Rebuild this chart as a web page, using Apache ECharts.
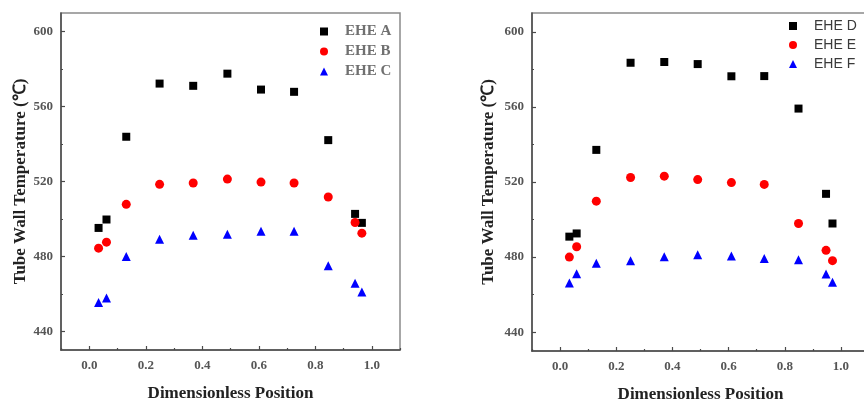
<!DOCTYPE html>
<html>
<head>
<meta charset="utf-8">
<script src="https://cdn.jsdelivr.net/npm/echarts@6/dist/echarts.min.js"></script>
<style>
  html, body { margin: 0; padding: 0; background: #fff; }
  #chart { width: 864px; height: 401px; }
</style>
</head>
<body>
<div id="chart"></div>
<script>
// Dimensionless positions along the tube (shared by every heat exchanger)
const posLeft  = [0.033, 0.061, 0.131, 0.249, 0.368, 0.489, 0.608, 0.725, 0.846, 0.941, 0.965];
const posRight = [0.033, 0.059, 0.129, 0.251, 0.371, 0.490, 0.610, 0.727, 0.849, 0.947, 0.970];

// Tube wall temperatures (℃)
const eheA = [495.2, 499.7, 543.9, 572.3, 571.1, 577.6, 569.1, 567.9, 542.1, 502.7, 497.9];
const eheB = [484.4, 487.6, 507.8, 518.5, 519.2, 521.3, 519.7, 519.2, 511.7, 498.1, 492.4];
const eheC = [455.4, 457.8, 480.0, 489.2, 491.3, 491.8, 493.4, 493.4, 475.0, 465.6, 461.0];
const eheD = [490.9, 492.6, 537.1, 583.5, 583.9, 582.8, 576.3, 576.4, 559.1, 513.7, 497.9];
const eheE = [480.0, 485.5, 509.8, 522.4, 523.1, 521.3, 519.7, 518.7, 497.9, 483.6, 478.1];
const eheF = [466.2, 471.2, 476.7, 478.1, 480.2, 481.3, 480.6, 479.2, 478.6, 471.0, 466.6];

// Tick positions and labels
const xMajorTicks = [0.0, 0.2, 0.4, 0.6, 0.8, 1.0];
const xMinorTicks = [-0.1, 0.1, 0.3, 0.5, 0.7, 0.9, 1.1];
const yMajorTicks = [440, 480, 520, 560, 600];
const yMinorTicks = [460, 500, 540, 580];

const xName = 'Dimensionless Position';
const yName = 'Tube Wall Temperature (℃)';

const serif = 'Liberation Serif, Times New Roman, serif';
const sans = 'Liberation Sans, Arial, sans-serif';
const axisColor = '#4a4a4a';
const labelStyle = { color: '#555', fontFamily: serif, fontWeight: 'bold', fontSize: 13 };
const nameStyle = { color: '#222', fontFamily: serif, fontWeight: 'bold', fontSize: 17 };

// The right-hand panel runs past the page edge on purpose
const grids = [
  { left: 61, top: 13, width: 339, height: 337 },
  { left: 532, top: 13, width: 337, height: 338 }
];
const yNameGaps = [31, 35];

function makeX(gridIndex) {
  return [
    {
      gridIndex, type: 'value', min: -0.1, max: 1.1,
      name: xName, nameLocation: 'middle', nameGap: 35,
      nameTextStyle: nameStyle,
      axisLine: { show: true, onZero: false, lineStyle: { color: axisColor, width: 1.5 } },
      axisTick: { show: true, inside: true, length: 4, customValues: xMajorTicks, lineStyle: { color: axisColor, width: 1.2 } },
      axisLabel: { customValues: xMajorTicks, margin: 9, formatter: v => v.toFixed(1), ...labelStyle },
      splitLine: { show: false }
    },
    {
      gridIndex, type: 'value', min: -0.1, max: 1.1, position: 'bottom',
      axisLine: { show: false, onZero: false },
      axisTick: { show: true, inside: true, length: 2, customValues: xMinorTicks, lineStyle: { color: axisColor, width: 1.2 } },
      axisLabel: { show: false },
      splitLine: { show: false }
    }
  ];
}

function makeY(gridIndex) {
  return [
    {
      gridIndex, type: 'value', min: 430, max: 610,
      name: yName, nameLocation: 'middle', nameGap: yNameGaps[gridIndex],
      nameTextStyle: nameStyle,
      axisLine: { show: true, onZero: false, lineStyle: { color: axisColor, width: 1.5 } },
      axisTick: { show: true, inside: true, length: 4, customValues: yMajorTicks, lineStyle: { color: axisColor, width: 1.2 } },
      axisLabel: { customValues: yMajorTicks, margin: 8, ...labelStyle },
      splitLine: { show: false }
    },
    {
      gridIndex, type: 'value', min: 430, max: 610, position: 'left',
      axisLine: { show: false, onZero: false },
      axisTick: { show: true, inside: true, length: 2, customValues: yMinorTicks, lineStyle: { color: axisColor, width: 1.2 } },
      axisLabel: { show: false },
      splitLine: { show: false }
    }
  ];
}

function scatter(name, xs, ys, axisBase, symbol, size, color) {
  return {
    name, type: 'scatter',
    xAxisIndex: axisBase, yAxisIndex: axisBase,
    symbol, symbolSize: size,
    itemStyle: { color, opacity: 1 },
    data: xs.map((x, i) => [x, ys[i]]),
    z: 5
  };
}

const chart = echarts.init(document.getElementById('chart'), null, { renderer: 'canvas' });
chart.setOption({
  animation: false,
  backgroundColor: '#fff',
  grid: grids.map(g => ({
    ...g, containLabel: false, outerBoundsMode: 'none',
    show: true, borderColor: '#8a8a8a', borderWidth: 1.5, backgroundColor: 'transparent'
  })),
  xAxis: [...makeX(0), ...makeX(1)],
  yAxis: [...makeY(0), ...makeY(1)],
  legend: [
    {
      data: ['EHE A', 'EHE B', 'EHE C'],
      orient: 'vertical', left: 315, top: 19,
      itemWidth: 8, itemHeight: 8, itemGap: 5,
      textStyle: { color: '#707070', fontFamily: serif, fontWeight: 'bold', fontSize: 15, padding: [0, 0, 0, 12] }
    },
    {
      data: ['EHE D', 'EHE E', 'EHE F'],
      orient: 'vertical', left: 784, top: 14,
      itemWidth: 8, itemHeight: 8, itemGap: 5,
      textStyle: { color: '#3a3a3a', fontFamily: sans, fontSize: 14, padding: [0, 0, 0, 12] }
    }
  ],
  series: [
    scatter('EHE A', posLeft, eheA, 0, 'rect', 8, '#000'),
    scatter('EHE B', posLeft, eheB, 0, 'circle', 9, '#ff0000'),
    scatter('EHE C', posLeft, eheC, 0, 'triangle', 9, '#0000ff'),
    scatter('EHE D', posRight, eheD, 2, 'rect', 8, '#000'),
    scatter('EHE E', posRight, eheE, 2, 'circle', 9, '#ff0000'),
    scatter('EHE F', posRight, eheF, 2, 'triangle', 9, '#0000ff')
  ]
});
</script>
</body>
</html>
